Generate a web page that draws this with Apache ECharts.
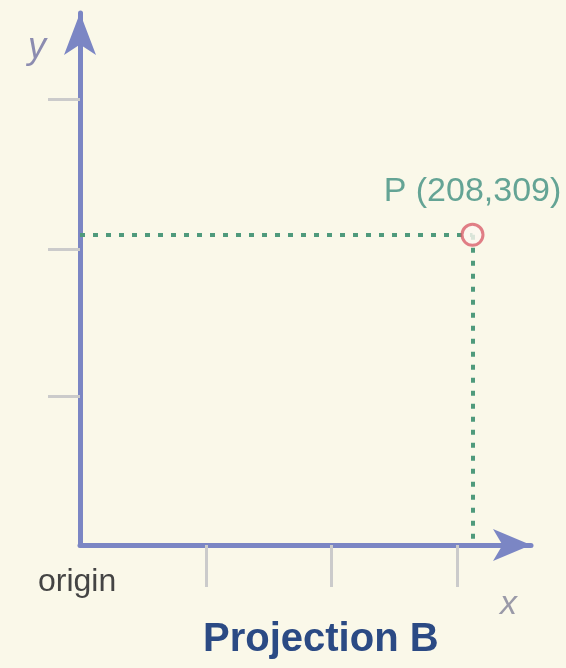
<!DOCTYPE html>
<html lang="en">
<head>
    <meta charset="utf-8"/>
    <title>Projection B</title>
    <script src="https://cdn.jsdelivr.net/npm/echarts@6/dist/echarts.min.js"></script>
    <style>
        html, body { margin: 0; padding: 0; background: #faf8e9; }
        #main { width: 566px; height: 668px; }
    </style>
</head>
<body>
    <div id="main"></div>
    <script>
        // point P and the axis ranges
        const pointP = [208, 309];
        const pointLabel = 'P (208,309)';
        const xRange = [0, 239];
        const yRange = [0, 530];
        // tick positions along each axis
        const xTicks = [67, 133, 200];
        const yTicks = [148, 295, 444];

        const chart = echarts.init(document.getElementById('main'));
        const axisColor = '#7b86c4';
        const tickColor = '#cbcbcb';
        const dashColor = '#4f9a7c';

        const option = {
            backgroundColor: '#faf8e9',
            animation: false,
            grid: { left: 80, right: 35, top: 13, bottom: 123 },
            xAxis: {
                type: 'value',
                min: xRange[0],
                max: xRange[1],
                axisLine: {
                    show: true,
                    symbol: ['none', 'arrow'],
                    symbolSize: [24, 38],
                    lineStyle: { color: axisColor, width: 5 }
                },
                axisTick: {
                    show: true,
                    customValues: xTicks,
                    length: 42,
                    lineStyle: { color: tickColor, width: 3 }
                },
                axisLabel: { show: false },
                splitLine: { show: false }
            },
            yAxis: {
                type: 'value',
                min: yRange[0],
                max: yRange[1],
                axisLine: {
                    show: true,
                    symbol: ['none', 'arrow'],
                    symbolSize: [24, 42],
                    lineStyle: { color: axisColor, width: 5 }
                },
                axisTick: {
                    show: true,
                    customValues: yTicks,
                    length: 32,
                    lineStyle: { color: tickColor, width: 3 }
                },
                axisLabel: { show: false },
                splitLine: { show: false }
            },
            series: [{
                type: 'scatter',
                data: [pointP],
                symbol: 'circle',
                symbolSize: 21,
                z: 5,
                itemStyle: { color: '#fdf6f0', borderColor: '#d95f6c', borderWidth: 3 },
                label: {
                    show: true,
                    position: 'top',
                    distance: 14,
                    formatter: pointLabel,
                    color: '#3f8e80',
                    fontSize: 34,
                    fontFamily: 'Liberation Sans, Arial, sans-serif'
                },
                markLine: {
                    silent: true,
                    symbol: 'none',
                    label: { show: false },
                    lineStyle: { color: dashColor, width: 4, type: [5, 8] },
                    data: [
                        [{ coord: [xRange[0], pointP[1]] }, { coord: [pointP[0], pointP[1]] }],
                        [{ coord: [pointP[0], pointP[1]] }, { coord: [pointP[0], yRange[0]] }]
                    ]
                }
            }],
            graphic: [
                {
                    type: 'text', left: 38, top: 566,
                    style: { text: 'origin', fill: '#444444', fontSize: 32, fontFamily: 'Liberation Sans, Arial, sans-serif' }
                },
                {
                    type: 'text', left: 500, top: 588,
                    style: { text: 'x', fill: '#9a9aa8', fontSize: 34, fontStyle: 'italic', fontFamily: 'Liberation Sans, Arial, sans-serif' }
                },
                {
                    type: 'text', left: 28, top: 30,
                    style: { text: 'y', fill: '#8c8cb0', fontSize: 36, fontStyle: 'italic', fontFamily: 'Liberation Sans, Arial, sans-serif' }
                },
                {
                    type: 'text', left: 203, top: 620,
                    style: { text: 'Projection B', fill: '#2b4a84', fontSize: 40, fontWeight: 'bold', fontFamily: 'Liberation Sans, Arial, sans-serif' }
                }
            ]
        };
        chart.setOption(option);
    </script>
</body>
</html>
